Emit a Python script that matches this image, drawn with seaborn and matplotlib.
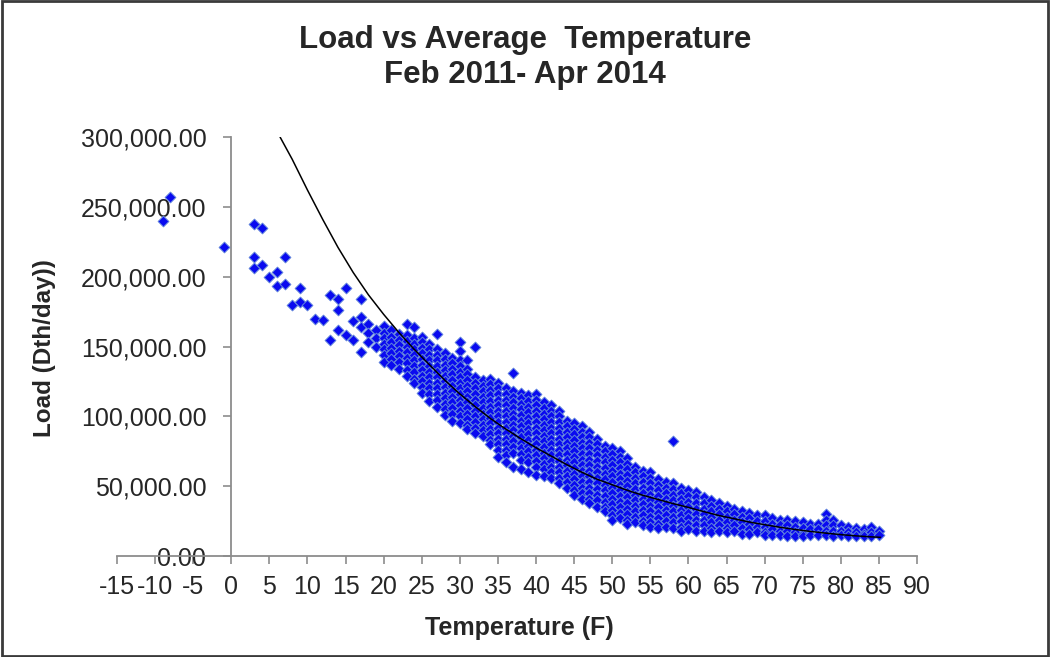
import numpy as np
import pandas as pd
import matplotlib
matplotlib.use("Agg")
import matplotlib.pyplot as plt
import seaborn as sns
from matplotlib.ticker import FuncFormatter
from matplotlib.patches import Rectangle

# ---------------------------------------------------------------
# dados (temperatura F, carga em mil Dth/dia)
# ---------------------------------------------------------------

# dias frios, pontos esparsos
cold_temps = [-9, -8, -1, 3, 3, 3, 4, 4, 5, 6, 6, 7, 7, 8, 9, 9, 10, 11, 12,
              13, 13, 14, 14, 14, 15, 15, 16, 16, 17, 17, 17, 17, 18, 18, 18,
              19, 19, 19]
cold_loads = [240, 257, 221, 238, 214, 206, 235, 208, 200, 203, 193, 214, 195,
              180, 192, 182, 180, 170, 169, 187, 155, 184, 176, 162, 192, 158,
              168, 155, 184, 171, 164, 146, 166, 160, 153, 162, 156, 150]

# faixa densa: uma lista de cargas por temperatura inteira
band_cold_temps = [20, 21, 22, 23, 24, 25, 26, 27, 28, 29,
                   30, 31, 32, 33, 34, 35, 36, 37, 38, 39]
band_cold_loads = [
    [165, 160, 156, 152, 148, 144, 139],
    [162, 157, 153, 149, 145, 141, 137],
    [159, 155, 151, 147, 143, 139, 134],
    [166, 158, 154, 150, 146, 142, 138, 133, 129],
    [164, 156, 152, 148, 144, 140, 136, 132, 127, 124],
    [157, 153, 149, 145, 141, 137, 133, 129, 125, 121, 117],
    [152, 148, 144, 140, 136, 132, 128, 124, 120, 116, 111],
    [159, 148, 144, 140, 136, 132, 128, 124, 120, 116, 112, 107],
    [145, 141, 137, 133, 129, 125, 121, 117, 113, 109, 105, 101],
    [142, 138, 134, 130, 126, 122, 118, 114, 110, 106, 102, 97],
    [153, 147, 140, 136, 132, 128, 124, 120, 116, 112, 108, 104, 100, 95],
    [140, 134, 130, 126, 122, 118, 114, 110, 106, 102, 98, 94, 91],
    [150, 128, 124, 120, 116, 112, 108, 104, 100, 96, 92, 88],
    [126, 122, 118, 114, 110, 106, 102, 98, 94, 90, 86],
    [127, 123, 119, 115, 111, 107, 103, 99, 95, 91, 87, 83, 80],
    [124, 120, 116, 112, 108, 104, 100, 96, 92, 88, 84, 80, 76, 71],
    [120, 116, 112, 108, 104, 100, 96, 92, 88, 84, 80, 76, 72, 67],
    [131, 118, 114, 110, 106, 102, 98, 94, 90, 86, 82, 78, 74, 64],
    [117, 113, 109, 105, 101, 97, 93, 89, 85, 81, 77, 73, 69, 62],
    [115, 111, 107, 103, 99, 95, 91, 87, 83, 79, 75, 71, 67, 60],
]

band_mild_temps = [40, 41, 42, 43, 44, 45, 46, 47, 48, 49,
                   50, 51, 52, 53, 54, 55, 56, 57, 58, 59]
band_mild_loads = [
    [116, 112, 108, 104, 100, 96, 92, 88, 84, 80, 76, 72, 68, 64, 58],
    [110, 106, 102, 98, 94, 90, 86, 82, 78, 74, 70, 66, 62, 57],
    [108, 104, 100, 96, 92, 88, 84, 80, 76, 72, 68, 64, 60, 56],
    [104, 100, 96, 92, 88, 84, 80, 76, 72, 68, 64, 60, 56, 52],
    [97, 93, 89, 85, 81, 77, 73, 69, 65, 61, 57, 53, 49],
    [95, 91, 87, 83, 79, 75, 71, 67, 63, 59, 55, 51, 47, 44],
    [93, 89, 85, 81, 77, 73, 69, 65, 61, 57, 53, 49, 45, 41],
    [89, 85, 81, 77, 73, 69, 65, 61, 57, 53, 49, 45, 41, 38],
    [84, 80, 76, 72, 68, 64, 60, 56, 52, 48, 44, 40, 35],
    [79, 75, 71, 67, 63, 59, 55, 51, 47, 43, 39, 35, 32],
    [77, 73, 69, 65, 61, 57, 53, 49, 45, 41, 37, 33, 29, 26],
    [75, 71, 67, 63, 59, 55, 51, 47, 43, 39, 35, 31, 27],
    [70, 66, 62, 58, 54, 50, 46, 42, 38, 34, 30, 26, 23],
    [64, 60, 56, 52, 48, 44, 40, 36, 32, 28, 24],
    [61, 57, 53, 49, 45, 41, 37, 33, 29, 25, 22],
    [60, 56, 52, 48, 44, 40, 36, 32, 28, 24, 21],
    [55, 51, 47, 43, 39, 35, 31, 27, 23, 20],
    [53, 49, 45, 41, 37, 33, 29, 25, 21],
    [82, 52, 48, 44, 40, 36, 32, 28, 24, 20],
    [49, 45, 41, 37, 33, 29, 25, 21, 18],
]

band_warm_temps = [60, 61, 62, 63, 64, 65, 66, 67, 68, 69, 70, 71, 72,
                   73, 74, 75, 76, 77, 78, 79, 80, 81, 82, 83, 84, 85]
band_warm_loads = [
    [47, 43, 39, 35, 31, 27, 23, 19],
    [46, 42, 38, 34, 30, 26, 22, 18],
    [42, 38, 34, 30, 26, 22, 18],
    [40, 36, 32, 28, 24, 20, 17],
    [38, 34, 30, 26, 22, 18],
    [36, 32, 28, 24, 20, 17],
    [34, 30, 26, 22, 18],
    [32, 28, 24, 20, 16],
    [31, 27, 23, 19, 16],
    [29, 25, 21, 17],
    [29, 25, 21, 17, 15],
    [27, 23, 19, 15],
    [26, 22, 18, 15],
    [26, 22, 18, 14],
    [25, 21, 17, 14],
    [24, 20, 16, 14],
    [23, 19, 15],
    [23, 19, 15],
    [30, 26, 22, 18, 15],
    [26, 22, 18, 14],
    [22, 18, 15],
    [21, 17, 14],
    [20, 17, 14],
    [19, 16, 14],
    [21, 17, 14],
    [18, 15],
]

trend_temps = [6.4, 8, 10, 12, 14, 16, 18, 20, 22, 24, 26, 28, 30, 32, 34, 36,
               38, 40, 42, 44, 46, 48, 50, 52, 54, 56, 58, 60, 62, 64, 66, 68,
               70, 72, 74, 76, 78, 80, 82, 84, 85.2]
trend_loads = [300, 284, 262, 241, 221, 203, 187, 173, 160, 148, 137, 126,
               116, 107, 98.5, 91, 84, 77.5, 71.5, 65.5, 60, 55, 51, 47, 43.5,
               40.5, 37.5, 34.8, 31.8, 29, 26.7, 24.3, 22.4, 20.6, 19, 17.6,
               16.4, 15.3, 14.4, 13.7, 13.4]

x_ticks = list(range(-15, 95, 5))
y_ticks = [0, 50000, 100000, 150000, 200000, 250000, 300000]

# ---------------------------------------------------------------
# montar tabela
# ---------------------------------------------------------------
rows = list(zip(cold_temps, cold_loads))
for temps, loads in [(band_cold_temps, band_cold_loads),
                     (band_mild_temps, band_mild_loads),
                     (band_warm_temps, band_warm_loads)]:
    for t, vals in zip(temps, loads):
        rows.extend((t, v) for v in vals)

df = pd.DataFrame(rows, columns=["temp", "load"])
df["load"] = df["load"] * 1000
trend = pd.DataFrame({"temp": trend_temps, "load": np.array(trend_loads) * 1000})

# ---------------------------------------------------------------
# gráfico
# ---------------------------------------------------------------
sns.set_style("white")
plt.rcParams["font.family"] = ["Liberation Sans", "DejaVu Sans"]
plt.rcParams["axes.unicode_minus"] = False

fig = plt.figure(figsize=(10.5, 6.57), dpi=100)
ax = fig.add_axes([117 / 1050, 101 / 657, 800 / 1050, 419 / 657])

sns.scatterplot(data=df, x="temp", y="load", marker="D", s=30,
                color="#0a0af0", edgecolor="#5f82dc", linewidth=0.7,
                zorder=3, ax=ax, legend=False)
sns.lineplot(data=trend, x="temp", y="load", color="black", linewidth=1.1,
             zorder=4, ax=ax)

ax.set_xlim(-15, 90)
ax.set_ylim(0, 300000)
ax.set_xticks(x_ticks)
ax.set_yticks(y_ticks)
ax.yaxis.set_major_formatter(FuncFormatter(lambda v, p: f"{v:,.2f}"))
ax.set_xlabel("")
ax.set_ylabel("")

for s in ["top", "right"]:
    ax.spines[s].set_visible(False)
ax.spines["left"].set_position(("data", 0))
for s in ["left", "bottom"]:
    ax.spines[s].set_color("#8c8c8c")
    ax.spines[s].set_linewidth(1.3)

ax.tick_params(axis="y", direction="out", length=6, width=1.2, color="#8c8c8c",
               pad=12, labelsize=18, left=True)
ax.tick_params(axis="x", direction="out", length=6, width=1.2, color="#8c8c8c",
               pad=8, labelsize=18, bottom=True)
ax.grid(False)

fig.text(0.5, 1 - 40 / 657, "Load vs Average  Temperature", ha="center",
         va="center", fontsize=22.5, fontweight="bold")
fig.text(0.5, 1 - 75 / 657, "Feb 2011- Apr 2014", ha="center", va="center",
         fontsize=22.5, fontweight="bold")
fig.text(519 / 1050, 1 - 628 / 657, "Temperature (F)", ha="center",
         va="center", fontsize=18, fontweight="bold")
fig.text(45 / 1050, 1 - 348 / 657, "Load (Dth/day))", ha="center",
         va="center", rotation=90, fontsize=17.5, fontweight="bold")

fig.add_artist(Rectangle((0.002, 0.002), 0.996, 0.996, transform=fig.transFigure,
                         fill=False, edgecolor="#3a3a3a", linewidth=2))

fig.savefig("out.png", dpi=100)
